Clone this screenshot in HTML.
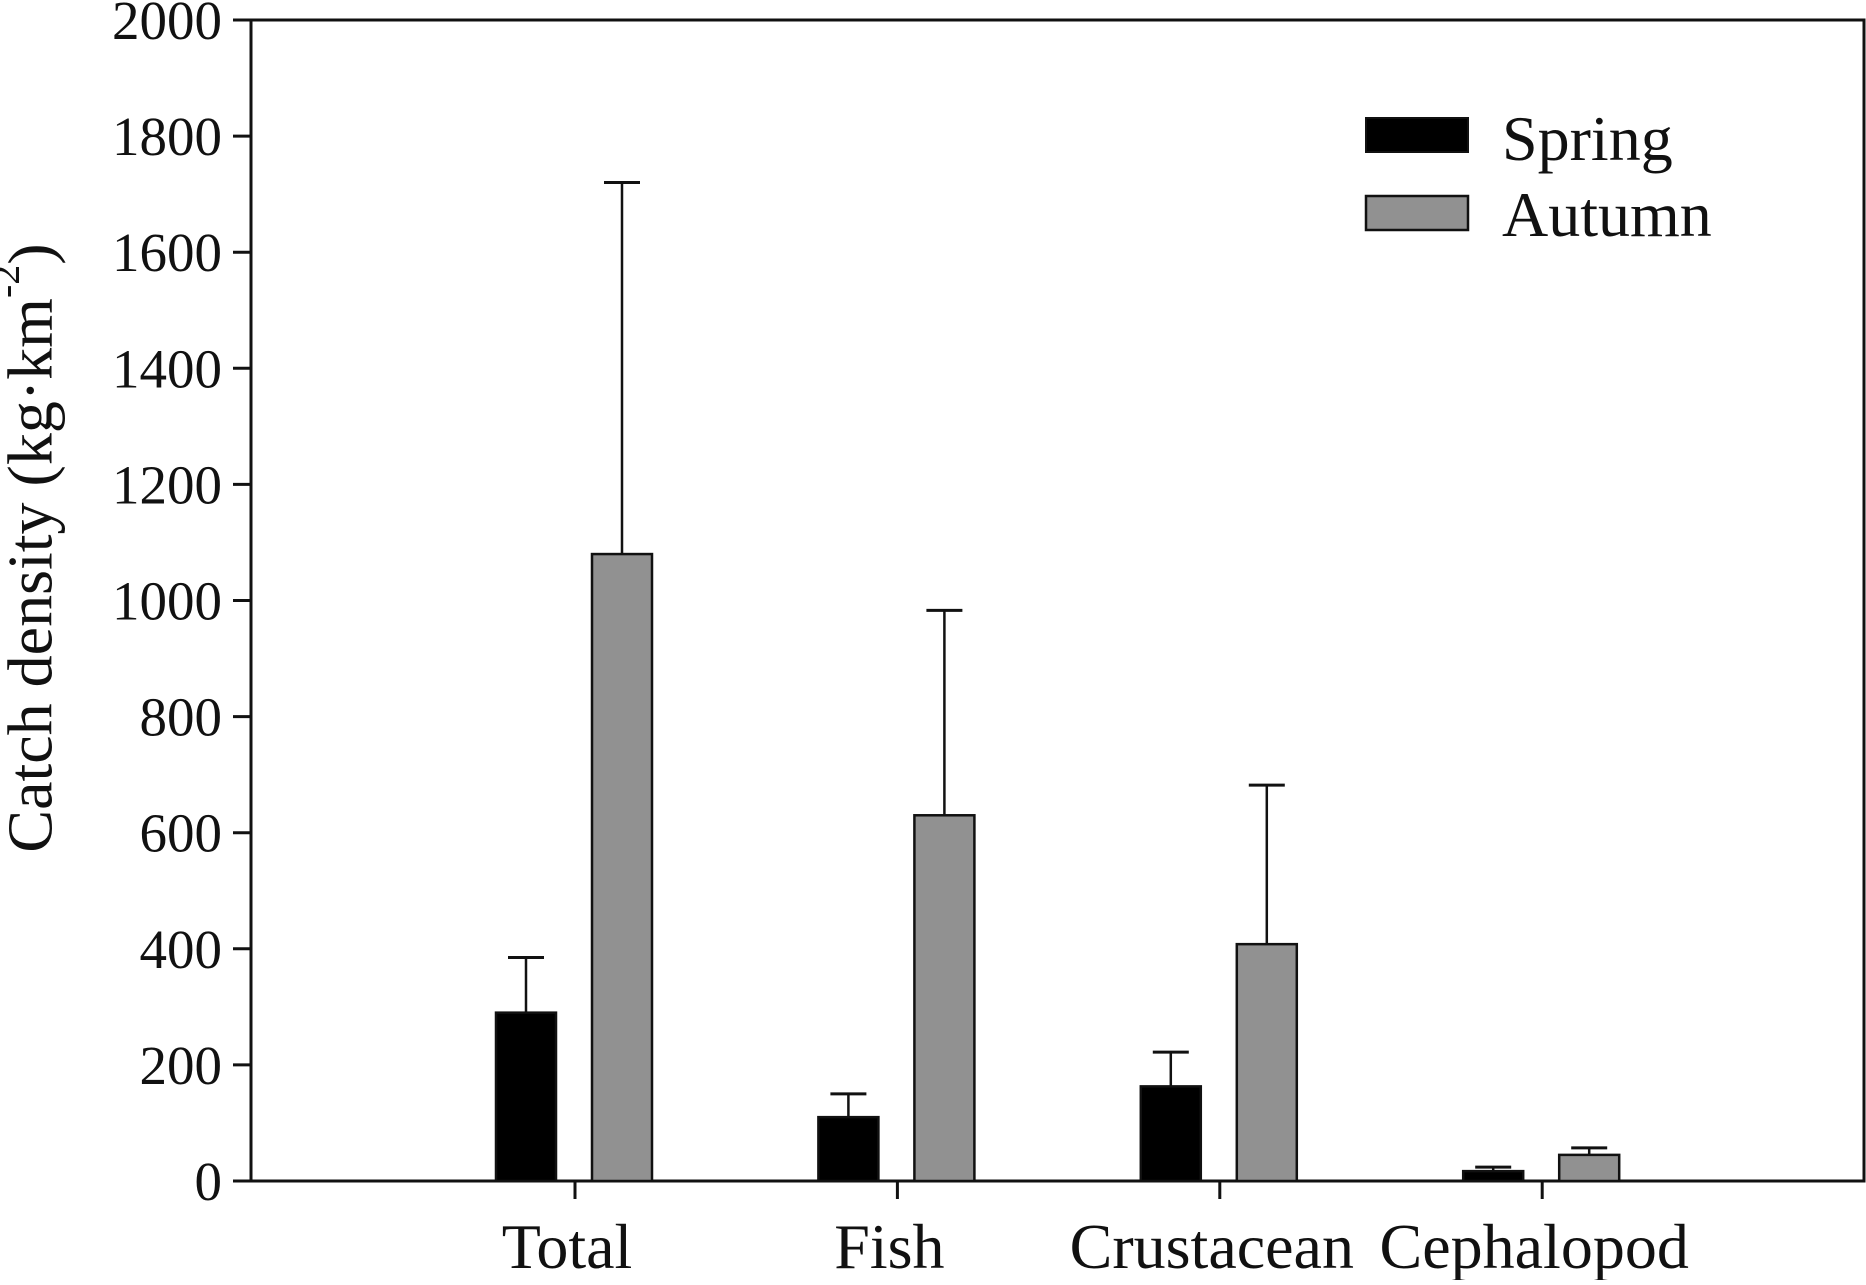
<!DOCTYPE html>
<html><head><meta charset="utf-8"><style>
body{margin:0;background:#fff}
svg text{font-family:"Liberation Serif",serif;fill:#111}
</style></head><body>
<svg width="1866" height="1280" viewBox="0 0 1866 1280" id="chart">
<rect x="251" y="20" width="1613" height="1161" fill="none" stroke="#111" stroke-width="3"/>
<g id="yaxis"></g>
<g id="xaxis"></g>
<g id="bars"></g>
<text x="30" y="548" font-size="64" text-anchor="middle" transform="rotate(-90 30 548)" dominant-baseline="central">Catch density (kg·km<tspan font-size="40" dy="-25">-2</tspan><tspan dy="25">)</tspan></text>
<g>
<rect x="1366" y="118" width="102" height="34" fill="#000" stroke="#111" stroke-width="2"/>
<text x="1502" y="160" font-size="64">Spring</text>
<rect x="1366" y="196" width="102" height="34" fill="#919191" stroke="#111" stroke-width="2.5"/>
<text x="1502" y="236" font-size="64">Autumn</text>
</g>
</svg>
<script>
const categories=["Total","Fish","Crustacean","Cephalopod"];
const springValues=[290,110,163,17];
const springUpper=[385,150,222,24];
const autumnValues=[1080,630,408,45];
const autumnUpper=[1720,983,682,57];
const yTicks=[0,200,400,600,800,1000,1200,1400,1600,1800,2000];
const NS="http://www.w3.org/2000/svg";
function y(v){return 1181-v*(1161/2000);}
function x(i){return 575+i*322.4;}
function mk(tag,attrs,parent){const e=document.createElementNS(NS,tag);for(const k in attrs)e.setAttribute(k,attrs[k]);parent.appendChild(e);return e;}
const ya=document.getElementById('yaxis'),xa=document.getElementById('xaxis'),bg=document.getElementById('bars');
yTicks.forEach(t=>{
 const l=mk('line',{x1:233,x2:251,y1:y(t),y2:y(t),stroke:'#111','stroke-width':3},ya);
 
 
 const tx=mk('text',{x:222,y:y(t)+19,'font-size':55,'text-anchor':'end'},ya);
 tx.textContent=t;
 
 
});
categories.forEach((c,i)=>{
 const cx=x(i);
 const l=mk('line',{x1:cx,x2:cx,y1:1181,y2:1199,stroke:'#111','stroke-width':3},xa);
 
 
 const tx=mk('text',{x:cx-8,y:1268,'font-size':64,'text-anchor':'middle'},xa);
 tx.textContent=c;
 
 
 [[springValues,springUpper,-49,'#000'],[autumnValues,autumnUpper,47,'#919191']].forEach((s,j)=>{
  const bx=cx+s[2];
  const e=mk('line',{x1:bx,x2:bx,y1:y(s[1][i]),y2:y(s[0][i]),stroke:'#111','stroke-width':2.5},bg);
  
  
  const cap=mk('line',{x1:bx-18,x2:bx+18,y1:y(s[1][i]),y2:y(s[1][i]),stroke:'#111','stroke-width':3},bg);
  
  
  const r=mk('rect',{x:bx-30,y:y(s[0][i]),width:60,height:1181-y(s[0][i]),fill:s[3],stroke:'#111','stroke-width':2.5},bg);
  
  
 });
});
</script>
</body></html>
